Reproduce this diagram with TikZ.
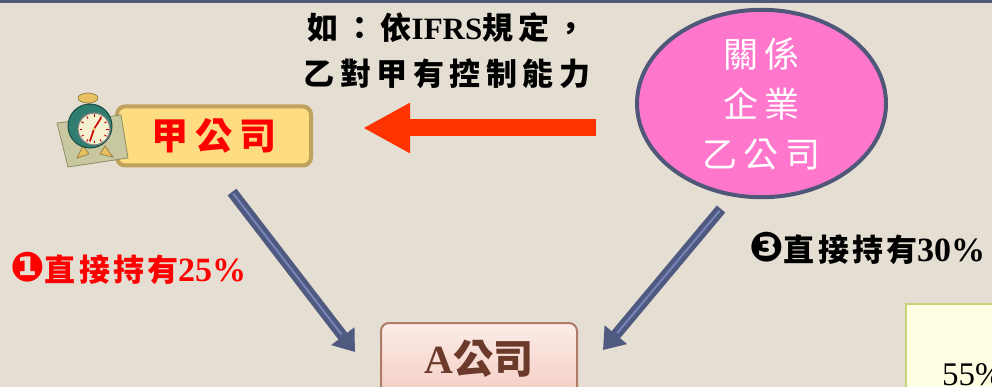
\documentclass[tikz,border=0pt]{standalone}
\usepackage{fontspec}
\setmainfont{Liberation Serif}
\newfontfamily\cjk{Noto Sans CJK TC}
\newfontfamily\cjkwide[LetterSpace=18]{Noto Sans CJK TC}
\newfontfamily\cjklabel[LetterSpace=10]{Noto Sans CJK TC}
\newfontfamily\dingfont{DejaVu Sans}
\usetikzlibrary{arrows.meta,shapes.geometric}

\newcommand{\lat}[1]{{\rmfamily #1}}
\newcommand{\pctnum}[1]{{\rmfamily\bfseries\fontsize{34}{40}\selectfont #1}}
\newcommand{\ding}[1]{{\dingfont\fontsize{41}{42}\selectfont #1}}

\definecolor{paper}{RGB}{229,222,210}
\definecolor{slate}{RGB}{79,88,120}
\definecolor{jiafill}{RGB}{253,220,130}
\definecolor{jiaedge}{RGB}{192,162,92}
\definecolor{pinkfill}{RGB}{255,119,204}
\definecolor{arrowred}{RGB}{255,51,0}
\definecolor{holdblue}{RGB}{80,90,128}
\definecolor{holdlight}{RGB}{118,132,184}
\definecolor{abrown}{RGB}{107,58,42}
\definecolor{atop}{RGB}{252,236,232}
\definecolor{abot}{RGB}{244,206,196}
\definecolor{aedge}{RGB}{176,122,104}
\definecolor{notefill}{RGB}{255,255,228}
\definecolor{noteedge}{RGB}{200,210,120}
\definecolor{padfill}{RGB}{200,200,160}
\definecolor{padedge}{RGB}{140,140,100}
\definecolor{clockgreen}{RGB}{46,125,110}
\definecolor{clockface}{RGB}{244,240,208}
\definecolor{bellgold}{RGB}{232,192,96}

\tikzset{
  company/.style={rounded corners=8pt, inner sep=0pt},
  holdarrow/.style={holdblue, line width=11pt, -{Triangle[length=20pt,width=28pt]}},
  holdcore/.style={holdlight, line width=2pt, shorten >=22pt, shorten <=2pt},
  ctrlarrow/.style={arrowred, line width=17pt, -{Triangle[length=47pt,width=47pt]}},
  holdlabel/.style={anchor=west, inner sep=0pt, font=\cjklabel\bfseries\fontsize{31}{34}\selectfont},
}

\begin{document}
\begin{tikzpicture}[x=1pt,y=-1pt]
  \useasboundingbox (0,0) rectangle (992,387);
  \clip (0,0) rectangle (992,387);
  \fill[paper] (0,0) rectangle (992,387);
  \fill[slate] (0,0) rectangle (992,3);

  % the companies
  \node[company, draw=jiaedge, line width=4pt, fill=jiafill,
        minimum width=194pt, minimum height=59pt, text=red,
        font=\cjkwide\bfseries\fontsize{37}{40}\selectfont] (jia) at (214,136) {甲公司};
  \node[ellipse, draw=slate, line width=4pt, fill=pinkfill, inner sep=0pt,
        minimum width=249pt, minimum height=177pt, text=white, align=center,
        font=\cjkwide\fontsize{35}{50}\selectfont] (yi) at (761.5,103.5) {關係\\企業\\乙公司};
  \node[company, draw=aedge, line width=2pt, top color=atop, bottom color=abot,
        minimum width=196pt, minimum height=72pt, text=abrown,
        font=\cjk\bfseries\fontsize{40}{44}\selectfont] (acorp) at (479,359) {\lat{A}公司};
  \node[draw=noteedge, line width=2pt, fill=notefill, anchor=north west,
        minimum width=120pt, minimum height=120pt] (note) at (905,303) {};
  \node[anchor=base west, inner sep=0pt, font=\fontsize{33}{36}\selectfont] (pct) at (942,385) {55\%};

  % alarm clock beside 甲公司
  \begin{scope}[shift={(93,128)}]
    \filldraw[fill=padfill, draw=padedge, line width=0.8pt]
      (-36,-5) -- (28,-13) -- (35,30) -- (-25,39) -- cycle;
    \filldraw[fill=bellgold, draw=bellgold!60!black, line width=0.6pt] (-10,18) -- (-16,30) -- (-4,26) -- cycle;
    \filldraw[fill=bellgold, draw=bellgold!60!black, line width=0.6pt] (12,18) -- (20,29) -- (7,26) -- cycle;
    \draw[bellgold!60!black, line width=1.5pt] (-5,-26) -- (-3,-20);
    \filldraw[fill=bellgold, draw=bellgold!60!black, line width=0.6pt] (-5,-30) ellipse (10 and 5);
    \filldraw[fill=clockgreen, draw=clockgreen!60!black, line width=1pt] (-3,-2) circle (22);
    \filldraw[fill=clockface, draw=gray, line width=1.2pt] (1,1) circle (16);
    \foreach \a in {0,30,...,330}
      \draw[shift={(1,1)}, red!70!black, line width=0.9pt] (\a:12) -- (\a:14.5);
    \draw[red!80!black, line width=1.6pt, line cap=round] (1,1) -- (8,-10);
    \draw[red!80!black, line width=1.6pt, line cap=round] (1,1) -- (-3,13);
    \fill[bellgold] (1,1) circle (1.6);
  \end{scope}

  % 乙 controls 甲
  \node[font=\cjkwide\bfseries\fontsize{31}{46}\selectfont, align=center] (ifrs) at (447,51)
    {如：依\lat{IFRS}規定，\\乙對甲有控制能力};
  \coordinate (ctrl-from) at (596,128);
  \coordinate (ctrl-to) at (363,128);
  \draw[ctrlarrow] (ctrl-from) -- (ctrl-to);

  % direct holdings in A
  \coordinate (own1-from) at (232,192);
  \coordinate (own1-to) at (355,352);
  \draw[holdarrow] (own1-from) -- (own1-to);
  \draw[holdcore] (own1-from) -- (own1-to);
  \coordinate (own3-from) at (721,209);
  \coordinate (own3-to) at (603,350);
  \draw[holdarrow] (own3-from) -- (own3-to);
  \draw[holdcore] (own3-from) -- (own3-to);

  \node[holdlabel, text=red] (hold1) at (10,268) {\ding{❶}直接持有\pctnum{25\%}};
  \node[holdlabel] (hold3) at (749,248) {\ding{❸}直接持有\pctnum{30\%}};
\end{tikzpicture}
\end{document}
